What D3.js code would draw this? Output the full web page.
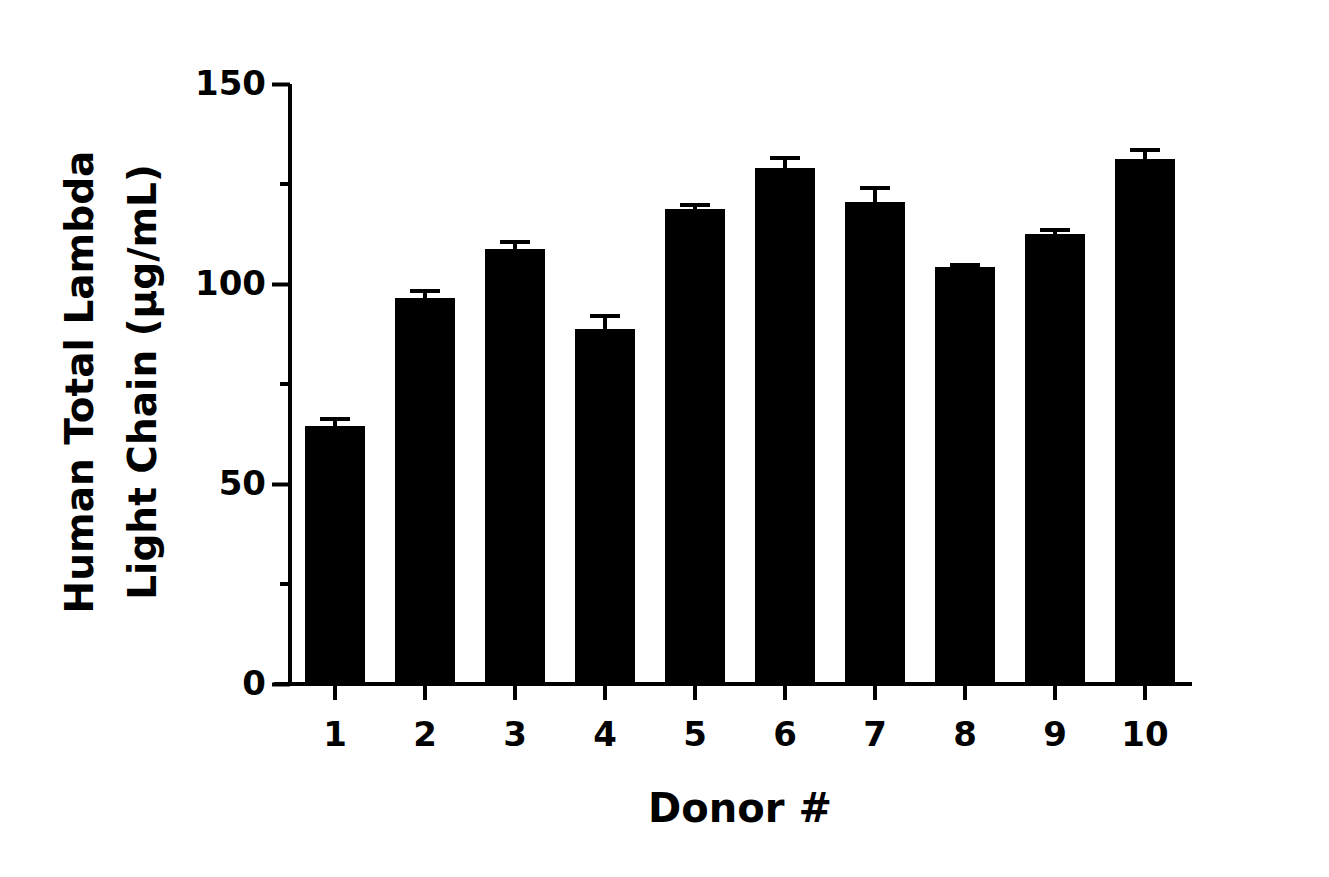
<!DOCTYPE html>
<html><head><meta charset="utf-8">
<script src="https://cdn.jsdelivr.net/npm/d3@7"></script>
<style>body{margin:0;background:#fff}text{font-family:"DejaVu Sans",sans-serif;font-weight:bold}</style>
</head><body><svg id="c" width="1329" height="877"></svg>
<script>
const donors = ["1","2","3","4","5","6","7","8","9","10"];
const means = [64.5,96.5,108.75,88.75,118.75,129,120.5,104.25,112.5,131.25];
const errs = [1.75,1.75,1.75,3.25,1,2.5,3.5,0.5,1,2.25];
const yTicks = [0,50,100,150];
const yMinor = [25,75,125];

const svg = d3.select("#c");
const x = d3.scaleBand().domain(donors).range([290,1190]).paddingInner(1/3).paddingOuter(1/6);
const y = d3.scaleLinear().domain([0,150]).range([684,84]);

const g = svg.append("g");
g.selectAll("rect.bar").data(donors).enter().append("rect")
  .attr("x",d=>x(d)).attr("width",x.bandwidth())
  .attr("y",(d,i)=>y(means[i])).attr("height",(d,i)=>y(0)-y(means[i])).attr("fill","#000");
const cw = 15;
donors.forEach((d,i)=>{
  const cx = x(d)+x.bandwidth()/2;
  g.append("line").attr("x1",cx).attr("x2",cx).attr("y1",y(means[i])).attr("y2",y(means[i]+errs[i])).attr("stroke","#000").attr("stroke-width",4);
  g.append("line").attr("x1",cx-cw).attr("x2",cx+cw).attr("y1",y(means[i]+errs[i])).attr("y2",y(means[i]+errs[i])).attr("stroke","#000").attr("stroke-width",4);
});

const ya = svg.append("g").attr("transform","translate(290,0)")
  .call(d3.axisLeft(y).tickValues(yTicks).tickSize(18).tickPadding(6));
ya.select(".domain").attr("d","M0,684V84").attr("stroke-width",4);
ya.selectAll(".tick line").attr("stroke-width",4);
ya.selectAll("text").attr("font-size",34).attr("fill","#000");
ya.selectAll(".minor").data(yMinor).enter().append("line").attr("class","minor")
  .attr("x1",-10).attr("x2",0).attr("y1",d=>y(d)).attr("y2",d=>y(d)).attr("stroke","#000").attr("stroke-width",4);

const xa = svg.append("g").attr("transform","translate(0,684)")
  .call(d3.axisBottom(x).tickSize(16).tickPadding(22));
xa.select(".domain").attr("d","M274,0H1192").attr("stroke-width",4);
xa.selectAll(".tick line").attr("stroke-width",4);
xa.selectAll("text").attr("font-size",34).attr("fill","#000");

svg.append("text").attr("x",740).attr("y",822).attr("text-anchor","middle").attr("font-size",40).text("Donor #");
const yt = svg.append("text").attr("transform","translate(0,382) rotate(-90)").attr("text-anchor","middle").attr("font-size",39);
yt.append("tspan").attr("x",0).attr("y",93).text("Human Total Lambda");
yt.append("tspan").attr("x",0).attr("y",156).text("Light Chain (µg/mL)");
</script></body></html>
